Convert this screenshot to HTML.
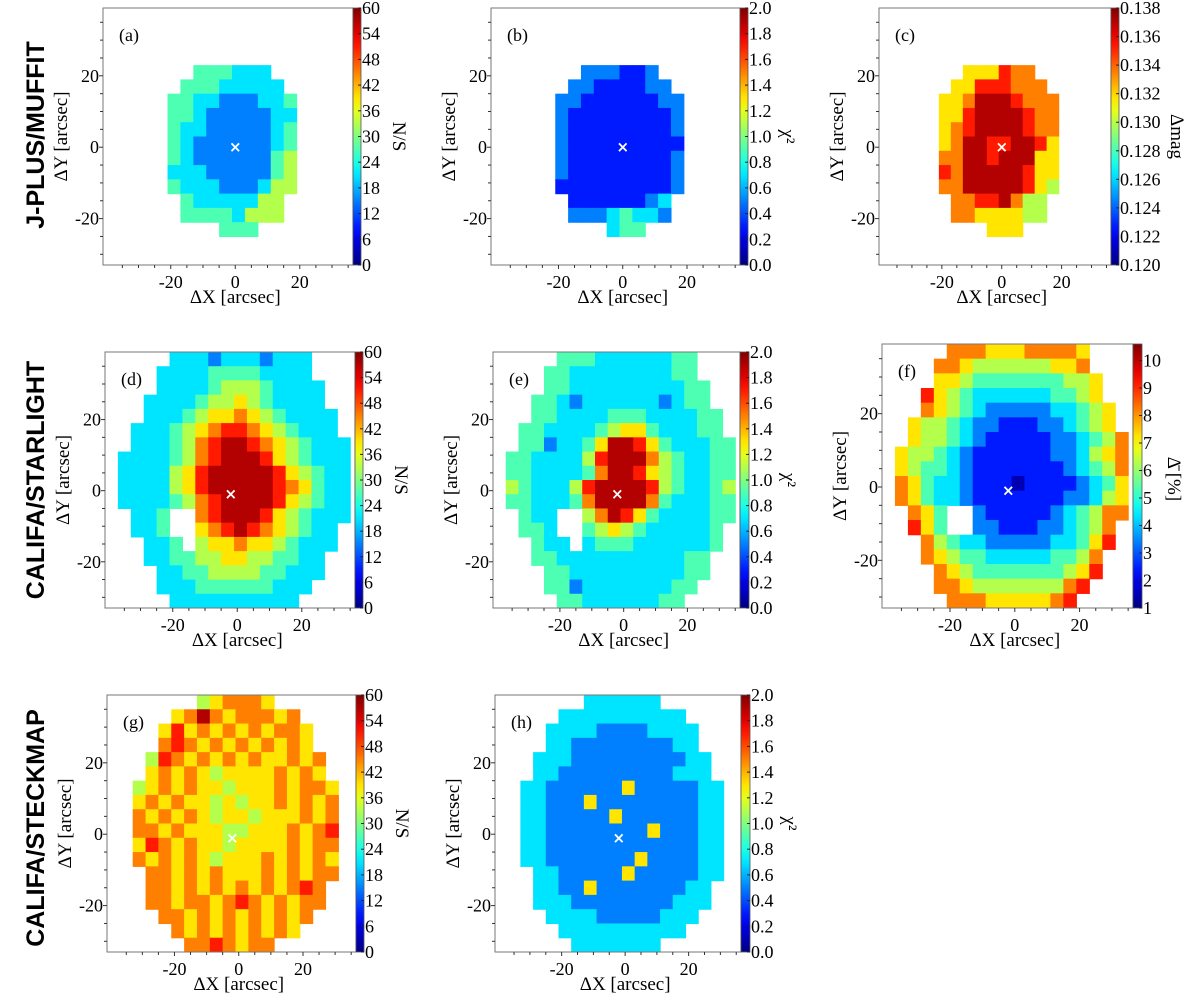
<!DOCTYPE html>
<html><head><meta charset="utf-8"><style>
html,body{margin:0;padding:0;background:#fff;}
svg{display:block;font-family:"Liberation Serif",serif;}
</style></head><body>
<svg id="fig" width="1200" height="993" viewBox="0 0 1200 993" xmlns="http://www.w3.org/2000/svg">
<text x="44" y="135" transform="rotate(-90 44 135)" text-anchor="middle" font-family="Liberation Sans, sans-serif" font-weight="bold" font-size="25">J-PLUS/MUFFIT</text>
<text x="44" y="480" transform="rotate(-90 44 480)" text-anchor="middle" font-family="Liberation Sans, sans-serif" font-weight="bold" font-size="25">CALIFA/STARLIGHT</text>
<text x="44" y="828" transform="rotate(-90 44 828)" text-anchor="middle" font-family="Liberation Sans, sans-serif" font-weight="bold" font-size="25">CALIFA/STECKMAP</text>
</svg>
<script>
// grid cell centres (arcsec)
const cellX = [-39,-35,-31,-27,-23,-19,-15,-11,-7,-3,1,5,9,13,17,21,25,29,33,37];
const cellY = [37,33,29,25,21,17,13,9,5,1,-3,-7,-11,-15,-19,-23,-27,-31];
// digit d -> colour fraction (d+0.5)/10 ; '.' empty
const gridA = ["....................","....................","....................","....................",
".......444333.......","......44433333......",".....4433222334.....",".....4432222233.....",".....4332222234.....",
".....4322222234.....",".....4322222245.....",".....3332222245.....",".....4333222355.....","......43333355......",
"......44443555......",".........444........","....................","...................."];
const gridB = ["....................","....................","....................","....................",
".......222112.......","......22111122......",".....2211111122.....",".....2111111112.....",".....2111111112.....",
".....2111111111.....",".....2111111112.....",".....2111111112.....",".....1111111112.....","......11111123......",
"......22234332......",".........344........","....................","...................."];
const gridC = ["....................","....................","....................","....................",
".......666877.......","......66888777......",".....6679998777.....",".....6689999877.....",".....6789999877.....",
".....6799889986.....",".....7799899966.....",".....8799999866.....",".....7799999865.....","......77889755......",
"......77666655......",".........666........","....................","...................."];
const gridD = [".....33323332333....","....333344443333....","....3333455543333...","...33334556543333...",
"...333456676543333..","..3334567887654333..","..33345789987654333.",".333345789998654333.",".333356899999865433.",
".333356899999876433.",".333345789999865433.","..334..789998654333.","..334..67898765433..","...334.56676654333..",
"...33445566554433...","....3344555544333...","....333444444333....",".....3333333333....."];
const gridE = [".....44433333344....","....443333333344....","....4433333333344...","...44323333332344...",
"...443333444333344..","..4433334566433344..","..44233469986433344.",".443333589997543344.",".443333479986543344.",
".543335899998543345.",".443334799997433344.","..433..579864333344.","..443..45654333334..","...433.34443333334..",
"...44333333333344...","....4433333333344...","....442333333344....",".....4433333344....."];
const gridF = [".....77766677776....","....776555555667....","....6654444444556...","...86543333334456...",
"...765432222233456..","..6554322111223456..","..65543211111223457.",".655432111111223567.",".654432111111123457.",
".764332111011112346.",".764332111111122356.","..764..211111234577.","..864..22111223457..","...754332222233468..",
"...76544333334457...","....7654444444568...","....776555555578....",".....7776666678....."];
const gridG = [".......567776.......",".....6797677767.....","....686767676776....","....787676767676....",
"...58767676766767...","...67676566667676...","..5676766566676776..","..6767665656676767..","..7676765665666767..",
"..7767666556667678..","..6876766566667677..","..7676765666767676..","...776767666767677..","...77676767676787...",
"...77677678767677...","....776767676767....",".....7676767676.....","......7787677......."];
const gridH = [".......333333.......",".....3333333333.....","....333322223333....","....332222222233....",
"...33322222222233...","...33222222222333...","..3322222262222233..","..3322262222222233..","..3322222622222233..",
"..3322222222622233..","..3322222222222233..","..3322222226222233..","...332222262222233..","...33226222222233...",
"...33322222222333...","....333322222333....",".....3333333333.....","......3333333......."];
const ticksNS = ["0","6","12","18","24","30","36","42","48","54","60"];
const ticksChi = ["0.0","0.2","0.4","0.6","0.8","1.0","1.2","1.4","1.6","1.8","2.0"];
const ticksMag = ["0.120","0.122","0.124","0.126","0.128","0.130","0.132","0.134","0.136","0.138"];
const ticksPct = ["1","2","3","4","5","6","7","8","9","10"];
const axisTicks = [-20,0,20];

const panels = [
 {id:"a",L:103,R:353,T:8,B:265,cb:8,grid:gridA,cx:0,cy:0,ticks:ticksNS,lo:0,hi:60,title:"N/S",tw:"ns"},
 {id:"b",L:491,R:740,T:8,B:265,cb:8,grid:gridB,cx:0,cy:0,ticks:ticksChi,lo:0,hi:2,title:"χ²",tw:"chi"},
 {id:"c",L:879,R:1111,T:8,B:265,cb:8,grid:gridC,cx:0,cy:0,ticks:ticksMag,lo:0.120,hi:0.138,title:"Δmag",tw:"mag"},
 {id:"d",L:105,R:355,T:352,B:608,cb:8,grid:gridD,cx:-2,cy:-1,ticks:ticksNS,lo:0,hi:60,title:"N/S",tw:"ns"},
 {id:"e",L:493,R:740,T:352,B:608,cb:9,grid:gridE,cx:-2,cy:-1,ticks:ticksChi,lo:0,hi:2,title:"χ²",tw:"chi"},
 {id:"f",L:882,R:1133,T:344,B:608,cb:9,grid:gridF,cx:-2,cy:-1,ticks:ticksPct,lo:1,hi:10.6,title:"Δ̄ [%]",tw:"pct"},
 {id:"g",L:107,R:356,T:695,B:952,cb:8,grid:gridG,cx:-2,cy:-1,ticks:ticksNS,lo:0,hi:60,title:"N/S",tw:"ns"},
 {id:"h",L:495,R:741,T:695,B:952,cb:9,grid:gridH,cx:-2,cy:-1,ticks:ticksChi,lo:0,hi:2,title:"χ²",tw:"chi"}
];
const XMIN=-41, XMAX=36.5, YMIN=-33, YMAX=39;

function jet(t){
  const c=v=>Math.round(255*Math.max(0,Math.min(1,v)));
  return `rgb(${c(1.5-Math.abs(4*t-3))},${c(1.5-Math.abs(4*t-2))},${c(1.5-Math.abs(4*t-1))})`;
}
const NS="http://www.w3.org/2000/svg";
const svg=document.getElementById("fig");
function mk(tag,attrs,parent){const e=document.createElementNS(NS,tag);for(const k in attrs)e.setAttribute(k,attrs[k]);(parent||svg).appendChild(e);return e;}

const defs=mk("defs",{});
const grad=mk("linearGradient",{id:"jet",x1:"0",y1:"1",x2:"0",y2:"0"},defs);
for(let i=0;i<=20;i++){mk("stop",{offset:(i/20),"stop-color":jet(i/20)},grad);}

panels.forEach(p=>{
  const sx=v=>p.L+(v-XMIN)/(XMAX-XMIN)*(p.R-p.L);
  const sy=v=>p.T+(YMAX-v)/(YMAX-YMIN)*(p.B-p.T);
  const g=mk("g",{});
  
  
  const cp=mk("clipPath",{id:"clip"+p.id},defs);
  mk("rect",{x:p.L,y:p.T,width:p.R-p.L,height:p.B-p.T},cp);
  const hm=mk("g",{"clip-path":`url(#clip${p.id})`},g);
  
  
  p.grid.forEach((row,j)=>{
    for(let i=0;i<row.length;i++){
      const ch=row[i]; if(ch===".") continue;
      const t=(parseInt(ch)+0.5)/10;
      const x0=sx(cellX[i]-2), x1=sx(cellX[i]+2), y0=sy(cellY[j]+2), y1=sy(cellY[j]-2);
      const r=mk("rect",{x:x0.toFixed(2),y:y0.toFixed(2),width:(x1-x0+0.6).toFixed(2),height:(y1-y0+0.6).toFixed(2),fill:jet(t)},hm);
      
      
    }
  });
  const mx=sx(p.cx), my=sy(p.cy);
  const m=mk("text",{x:mx,y:my+5,"text-anchor":"middle","font-family":"DejaVu Sans, sans-serif","font-size":"15","font-weight":"bold",fill:"#fff"},g);
  m.textContent="×";
  
  
  const fr=mk("rect",{x:p.L,y:p.T,width:p.R-p.L,height:p.B-p.T,fill:"none",stroke:"#777","stroke-width":"1"},g);
  
  
  for(let v=-35;v<=35;v+=5){
    const X=sx(v); if(X>p.L+1&&X<p.R-1){const maj=(v%20===0);mk("line",{x1:X,y1:p.B,x2:X,y2:p.B+(maj?4:3),stroke:"#333","stroke-width":"1"},g);}
    const Y=sy(v); if(Y>p.T+1&&Y<p.B-1){const maj=(v%20===0);mk("line",{x1:p.L,y1:Y,x2:p.L-(maj?4:3),y2:Y,stroke:"#333","stroke-width":"1"},g);}
  }
  axisTicks.forEach(v=>{
    const t1=mk("text",{x:sx(v),y:p.B+23,"text-anchor":"middle","font-size":"18"},g);
    t1.textContent=v<0?"-"+Math.abs(v):String(v);
    
    
    const t2=mk("text",{x:p.L-4,y:sy(v)+6,"text-anchor":"end","font-size":"18"},g);
    t2.textContent=v<0?"-"+Math.abs(v):String(v);
    
    
  });
  const xt=mk("text",{x:sx(0),y:p.B+38,"text-anchor":"middle","font-size":"19"},g);
  xt.textContent="ΔX [arcsec]";
  
  
  const ycx=p.L-36, ycy=sy(3);
  const yt=mk("text",{x:ycx,y:ycy,"text-anchor":"middle","font-size":"19",transform:`rotate(-90 ${ycx} ${ycy})`},g);
  yt.textContent="ΔY [arcsec]";
  
  
  const pl=mk("text",{x:p.L+16,y:p.T+33,"font-size":"18"},g);
  pl.textContent="("+p.id+")";
  
  
  const cbx=p.R, cbw=p.cb;
  const cb=mk("rect",{x:cbx,y:p.T,width:cbw,height:p.B-p.T,fill:"url(#jet)",stroke:"#555","stroke-width":"0.8"},g);
  
  
  const cyv=v=>p.B-(v-p.lo)/(p.hi-p.lo)*(p.B-p.T);
  p.ticks.forEach(s=>{
    const v=parseFloat(s), Y=cyv(v);
    mk("line",{x1:cbx+cbw-3,y1:Y,x2:cbx+cbw,y2:Y,stroke:"#222","stroke-width":"1"},g);
    const tl=mk("text",{x:cbx+cbw+1,y:Y+6,"font-size":"18"},g);
    tl.textContent=s;
    
    
  });
  const offs={ns:32,chi:34,mag:52,pct:26};
  const tx=cbx+cbw+offs[p.tw], ty=(p.T+p.B)/2+(p.tw==="pct"?3:0);
  const ct=mk("text",{x:tx,y:ty,"text-anchor":"middle","font-size":"19",transform:`rotate(90 ${tx} ${ty})`},g);
  ct.textContent=p.title;
  
  
});
</script>
</body></html>
